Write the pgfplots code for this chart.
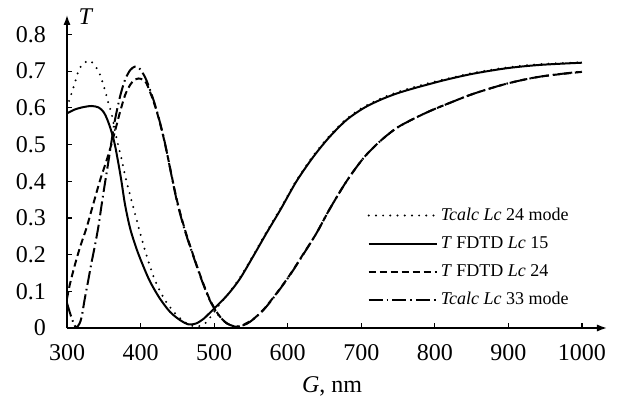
\documentclass[border=0pt]{standalone}
\usepackage{fontspec}
\setmainfont{Liberation Serif}
\usepackage{pgfplots}
\pgfplotsset{compat=1.18}
\usepackage{pgfplotstable}
\usetikzlibrary{arrows.meta}

\pgfplotstableread{
G T
300 0.600
304 0.627
308 0.650
311 0.670
315 0.697
321 0.719
331 0.728
339 0.712
345 0.690
352 0.645
356 0.615
361 0.580
366 0.530
370 0.495
374 0.462
379 0.415
386 0.360
392 0.315
399 0.262
406 0.212
413 0.167
420 0.128
432 0.080
446 0.042
460 0.016
470 0.006
478 0.004
488 0.013
497 0.035
505 0.058
519 0.093
535 0.137
553 0.198
571 0.261
590 0.325
612 0.403
635 0.470
657 0.524
680 0.570
703 0.602
725 0.624
748 0.642
771 0.656
793 0.668
816 0.679
852 0.695
898 0.710
943 0.719
1000 0.724
}\calcA

\pgfplotstableread{
G T
300 0.585
310 0.595
320 0.601
333 0.605
343 0.601
350 0.588
355 0.567
360 0.538
365 0.500
370 0.447
374 0.400
379 0.335
386 0.270
395 0.213
404 0.167
413 0.126
426 0.081
440 0.044
454 0.021
465 0.010
475 0.012
485 0.024
495 0.043
505 0.063
519 0.092
535 0.134
553 0.195
571 0.258
590 0.322
612 0.400
635 0.467
657 0.521
680 0.567
703 0.599
725 0.621
748 0.639
771 0.653
793 0.665
816 0.677
852 0.693
898 0.708
943 0.717
1000 0.723
}\fdtdA

\pgfplotstableread{
G T
300 0.080
304 0.120
311 0.174
318 0.222
327 0.276
336 0.340
345 0.403
354 0.458
361 0.505
367 0.550
372 0.588
379 0.635
386 0.663
392 0.677
397 0.680
403 0.677
408 0.667
417 0.621
424 0.576
431 0.521
436 0.476
449 0.352
460 0.270
472 0.196
483 0.133
494 0.078
506 0.036
517 0.013
528 0.004
536 0.005
542 0.011
553 0.024
567 0.050
585 0.095
603 0.145
621 0.201
639 0.258
657 0.324
680 0.400
703 0.463
725 0.508
748 0.545
771 0.570
793 0.591
816 0.610
852 0.638
898 0.666
943 0.685
1000 0.698
}\fdtdB

\pgfplotstableread{
G T
300 0.068
305 0.035
310 0.008
313 0.002
317 0.012
320 0.031
324 0.078
329 0.131
333 0.175
338 0.225
343 0.280
347 0.335
352 0.400
356 0.450
361 0.515
365 0.565
372 0.630
379 0.677
386 0.703
392 0.712
397 0.710
402 0.698
408 0.675
417 0.625
424 0.578
431 0.523
436 0.476
449 0.349
460 0.267
472 0.194
483 0.131
494 0.076
506 0.035
517 0.013
525 0.006
531 0.004
540 0.008
549 0.017
567 0.049
585 0.094
603 0.144
621 0.200
639 0.258
657 0.324
680 0.400
703 0.463
725 0.508
748 0.545
771 0.570
793 0.591
816 0.610
852 0.638
898 0.666
943 0.685
1000 0.699
}\calcB

\begin{document}
\begin{tikzpicture}
\begin{axis}[
  at={(0,0)}, anchor=south west,
  scale only axis,
  width=270pt, height=156.5pt,
  xmin=300, xmax=1034, ymin=0, ymax=0.853,
  axis lines=left,
  axis line style={line width=0.75pt, -{Latex[length=5pt,width=3.6pt]}},
  tick align=inside,
  major tick length=2.5pt,
  tick style={line width=0.6pt, black},
  xtick={300,400,...,1000},
  ytick={0,0.1,0.2,0.3,0.4,0.5,0.6,0.7,0.8},
  /pgf/number format/assume math mode=true,
  yticklabel style={/pgf/number format/fixed, /pgf/number format/precision=1, xshift=-7pt},
  xticklabel style={/pgf/number format/set thousands separator={}, yshift=-4.5pt},
  tick label style={font=\fontsize{12}{14}\selectfont},
  xlabel={\textit{G}, nm},
  xlabel style={at={(axis description cs:0.491,0)}, anchor=center, yshift=-29pt, font=\fontsize{12}{14}\selectfont},
  ylabel={\textit{T}},
  ylabel style={at={(axis description cs:0,1)}, anchor=center, rotate=-90, xshift=9.5pt, yshift=-1pt, font=\fontsize{12}{14}\selectfont},
  legend style={at={(axis description cs:0.556,0.395)}, anchor=north west, draw=none, fill=none,
    font=\fontsize{9}{10}\selectfont, row sep=3.5pt, inner sep=0pt,
    nodes={inner sep=1.5pt}},
  legend cell align=left,
  legend image code/.code={\draw[#1] (0pt,0pt) -- (34pt,0pt);},
]
\addplot[black, line width=1.1pt, line cap=round, dash pattern=on 0pt off 3.6pt, smooth] table[x=G,y=T] {\calcA};
\addlegendentry{\textit{Tcalc Lc} 24 mode}
\addplot[black, line width=1pt, smooth] table[x=G,y=T] {\fdtdA};
\addlegendentry{\textit{T} FDTD \textit{Lc} 15}
\addplot[black, line width=1pt, dash pattern=on 3.5pt off 2pt, smooth] table[x=G,y=T] {\fdtdB};
\addlegendentry{\textit{T} FDTD \textit{Lc} 24}
\addplot[black, line width=1pt, dash pattern=on 7pt off 2pt on 0.8pt off 2pt, smooth] table[x=G,y=T] {\calcB};
\addlegendentry{\textit{Tcalc Lc} 33 mode}
\end{axis}
\pgfresetboundingbox
\path[use as bounding box] (-33.5pt,-37pt) rectangle (275pt,164pt);
\end{tikzpicture}
\end{document}
